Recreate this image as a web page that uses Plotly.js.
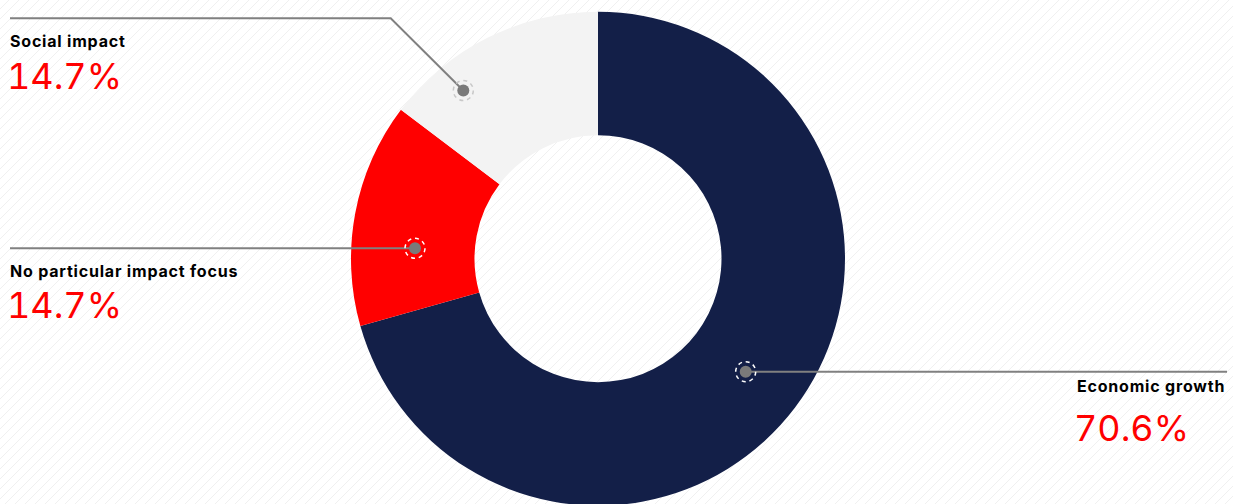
<!DOCTYPE html>
<html>
<head>
<meta charset="utf-8">
<script src="https://cdn.plot.ly/plotly-3.0.1.min.js"></script>
<style>
  html, body { margin: 0; padding: 0; overflow: hidden; width: 1233px; height: 504px;
    background: repeating-linear-gradient(135deg, #ffffff 0px, #ffffff 6.07px, #f0f0f0 6.07px, #f0f0f0 7.07px); }
  #chart { width: 1233px; height: 510px; }
</style>
</head>
<body>
<div id="chart"></div>
<script>
// ---- data ----
const categories = ["Economic growth", "No particular impact focus", "Social impact"];
const shares = [70.6, 14.7, 14.7];
const sliceColors = ["#131f48", "#ff0000", "#f3f3f3"];

// ---- layout helpers (pixel -> paper) ----
const W = 1233, H = 510;
const fx = p => p / W;
const fy = p => 1 - p / H;

// label blocks and leader lines (decoration positions in pixels)
const labelPos = [
  {x: 1075, vx: 1072, lab: 385.8, val: 428.4, dot: [745.7, 371.7], path: [[745.7, 371.7], [1227, 371.7]], ring: "#ffffff"},
  {x: 8,    vx: 4.5,  lab: 271.2, val: 305.0, dot: [415.0, 248.3], path: [[10, 248.3], [415.0, 248.3]], ring: "#ffffff"},
  {x: 8,    vx: 4.5,  lab: 40.9,  val: 76.0,  dot: [463.3, 90.5],  path: [[10, 18.3], [390.7, 18.3], [463.3, 90.5]], ring: "#c8c8c8"}
];

const shapes = [];
const annotations = [];
categories.forEach((c, i) => {
  const L = labelPos[i];
  const d = L.path.map((p, k) => (k ? "L" : "M") + fx(p[0]) + "," + fy(p[1])).join(" ");
  shapes.push({type: "path", xref: "paper", yref: "paper", path: d,
    line: {color: "#808080", width: 2}, layer: "above"});
});
categories.forEach((c, i) => {
  const L = labelPos[i];
  const [cx, cy] = L.dot;
  shapes.push({type: "circle", xref: "paper", yref: "paper",
    x0: fx(cx - 10), x1: fx(cx + 10), y0: fy(cy + 10), y1: fy(cy - 10),
    line: {color: L.ring, width: 1.5, dash: "4px,3.8px"}, fillcolor: "rgba(0,0,0,0)", layer: "above"});
  shapes.push({type: "circle", xref: "paper", yref: "paper",
    x0: fx(cx - 6), x1: fx(cx + 6), y0: fy(cy + 6), y1: fy(cy - 6),
    line: {width: 0}, fillcolor: "#7a7a7a", layer: "above"});
  annotations.push({xref: "paper", yref: "paper", x: fx(L.x), y: fy(L.lab),
    xanchor: "left", yanchor: "middle", showarrow: false,
    text: '<span style="letter-spacing:0.8px">' + c + '</span>',
    font: {family: "Inter, 'Noto Sans', sans-serif", size: 16, color: "#000000", weight: 700}});
  annotations.push({xref: "paper", yref: "paper", x: fx(L.vx), y: fy(L.val),
    xanchor: "left", yanchor: "middle", showarrow: false,
    text: '<span style="font-feature-settings:\'tnum\' 1;font-variant-numeric:tabular-nums">' + shares[i].toFixed(1) + '%</span>',
    font: {family: "Inter, 'Noto Sans', sans-serif", size: 36, color: "#ff0000", weight: 400}});
});

const trace = {
  type: "pie",
  labels: categories,
  values: shares,
  marker: {colors: sliceColors, line: {width: 0}},
  hole: 0.5,
  sort: false,
  direction: "clockwise",
  rotation: 0,
  textinfo: "none",
  textposition: "none",
  hoverinfo: "none",
  showlegend: false,
  domain: {x: [0, 1196 / W], y: [fy(505.7), fy(11.7)]}
};

const layout = {
  width: W, height: H,
  margin: {l: 0, r: 0, t: 0, b: 0, pad: 0},
  paper_bgcolor: "rgba(0,0,0,0)",
  plot_bgcolor: "rgba(0,0,0,0)",
  showlegend: false,
  shapes: shapes,
  annotations: annotations
};

Plotly.newPlot("chart", [trace], layout, {displayModeBar: false, staticPlot: true});
</script>
</body>
</html>
